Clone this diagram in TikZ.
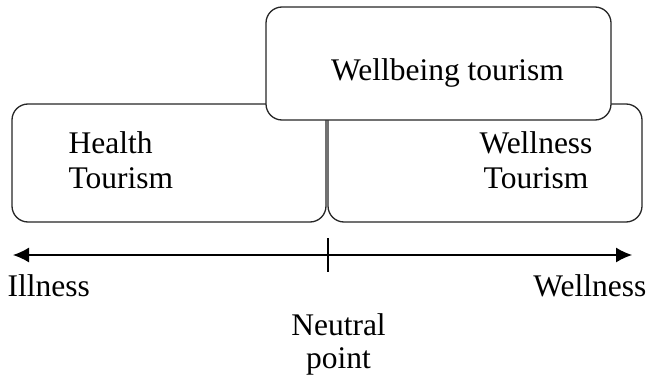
\documentclass[tikz,border=0pt]{standalone}
\usepackage{fontspec}
\setmainfont{Liberation Serif}
\usetikzlibrary{arrows.meta}
\begin{document}
\begin{tikzpicture}[x=1pt, y=-1pt, line width=1.3pt,
    box/.style={draw=black!85, rounded corners=16pt, fill=white, inner sep=0pt},
    lbl/.style={inner sep=0pt, font=\fontsize{31.5}{35}\selectfont}]
            \useasboundingbox (0,0) rectangle (648,380);
            \node[box, minimum width=314pt, minimum height=118pt] (health) at (169,163) {};
            \node[box, minimum width=314pt, minimum height=118pt] (wellness) at (485,163) {};
            \node[box, minimum width=345pt, minimum height=113pt] (wellbeing) at (438.5,63.5) {};
            \node[lbl, anchor=base west, align=left] (healthtxt) at (68,188) {Health\\Tourism};
            \node[lbl, anchor=base] (wellbeingtxt) at (447.5,80) {Wellbeing tourism};
            \node[lbl, anchor=base, align=center] (wellnesstxt) at (536,188) {Wellness\\Tourism};
            \coordinate (ill) at (13,255);
            \coordinate (wel) at (632,255);
            \coordinate (np) at (328,255);
            \draw[{Latex[length=16pt,width=15pt]}-{Latex[length=16pt,width=15pt]}] (ill) -- (wel);
            \draw ([yshift=17pt]np) -- ([yshift=-17pt]np);
            \node[lbl, anchor=base west] (illtxt) at (7,296) {Illness};
            \node[lbl, anchor=base east] (weltxt) at (647,296) {Wellness};
            \node[lbl, anchor=base, align=center, font=\fontsize{31.5}{33}\selectfont] (nptxt) at (338.5,368) {Neutral\\point};
        \end{tikzpicture}
\end{document}
